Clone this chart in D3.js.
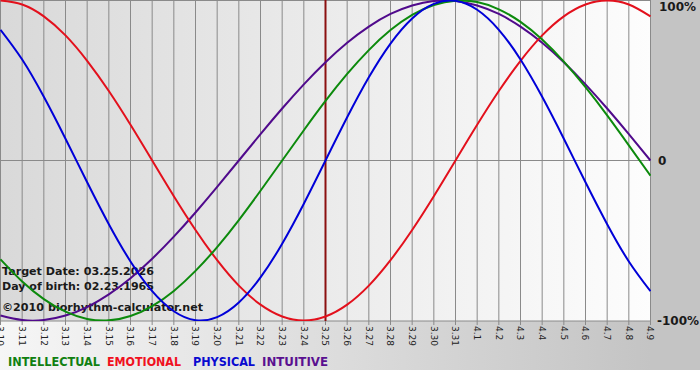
<!DOCTYPE html>
<html><head><meta charset="utf-8">
<script src="https://cdn.jsdelivr.net/npm/d3@7/dist/d3.min.js"></script>
<style>html,body{margin:0;padding:0;background:#fff;}svg{display:block;}</style>
</head><body>
<svg id="chart" width="700" height="380"></svg>
<script>
const dates = ["3.10","3.11","3.12","3.13","3.14","3.15","3.16","3.17","3.18","3.19","3.20","3.21","3.22","3.23","3.24","3.25","3.26","3.27","3.28","3.29","3.30","3.31","4.1","4.2","4.3","4.4","4.5","4.6","4.7","4.8","4.9"];
const targetDate = "3.25";
const intellectual = [-0.618,-0.756,-0.866,-0.945,-0.990,-0.999,-0.972,-0.910,-0.815,-0.690,-0.541,-0.372,-0.189,0,0.189,0.372,0.541,0.690,0.815,0.910,0.972,0.999,0.990,0.945,0.866,0.756,0.618,0.458,0.282,0.095,-0.095];
const emotional = [1,0.975,0.901,0.782,0.623,0.434,0.223,0,-0.223,-0.434,-0.623,-0.782,-0.901,-0.975,-1,-0.975,-0.901,-0.782,-0.623,-0.434,-0.223,0,0.223,0.434,0.623,0.782,0.901,0.975,1,0.975,0.901];
const physical = [0.817,0.631,0.398,0.136,-0.136,-0.398,-0.631,-0.817,-0.942,-0.998,-0.979,-0.888,-0.731,-0.520,-0.270,0,0.270,0.520,0.731,0.888,0.979,0.998,0.942,0.817,0.631,0.398,0.136,-0.136,-0.398,-0.631,-0.817];
const intuitive = [-0.969,-0.997,-0.997,-0.969,-0.916,-0.837,-0.736,-0.614,-0.476,-0.325,-0.165,0,0.165,0.325,0.476,0.614,0.736,0.837,0.916,0.969,0.997,0.997,0.969,0.916,0.837,0.736,0.614,0.476,0.325,0.165,0];
const yTicks = [1, 0, -1];
const yTickLabels = ["100%", "0", "-100%"];
const seriesNames = ["INTELLECTUAL","EMOTIONAL","PHYSICAL","INTUITIVE"];
const infoLines = ["Target Date: 03.25.2026","Day of birth: 02.23.1965","\u00A92010 biorhythm-calculator.net"];

const colors = {INTELLECTUAL:"#0c8a0c", EMOTIONAL:"#e3101c", PHYSICAL:"#0000d8", INTUITIVE:"#500a8c"};
const legendColors = {INTELLECTUAL:"#108010", EMOTIONAL:"#f01020", PHYSICAL:"#0a0ad0", INTUITIVE:"#5a1090"};
const seriesData = {INTELLECTUAL:intellectual, EMOTIONAL:emotional, PHYSICAL:physical, INTUITIVE:intuitive};

const svg = d3.select("#chart");
const W = 700, H = 380;
const plotL = 0, plotR = 651, plotT = 0, plotB = 321;

const x = d3.scalePoint().domain(dates).range([0.5, 650.5]);
const y = d3.scaleLinear().domain([-1, 1]).range([320.5, 0.5]);

const defs = svg.append("defs");
const g1 = defs.append("linearGradient").attr("id","plotGrad").attr("x1","0").attr("x2","1").attr("y1","0").attr("y2","0");
g1.append("stop").attr("offset","0").attr("stop-color","#d9d9d9");
g1.append("stop").attr("offset","1").attr("stop-color","#fdfdfd");
const g2 = defs.append("linearGradient").attr("id","bandGrad").attr("x1","0").attr("x2","1").attr("y1","0").attr("y2","0");
g2.append("stop").attr("offset","0").attr("stop-color","#f6f6f6");
g2.append("stop").attr("offset","0.93").attr("stop-color","#c4c4c4");
g2.append("stop").attr("offset","1").attr("stop-color","#c4c4c4");
defs.append("clipPath").attr("id","clip").append("rect").attr("x",plotL).attr("y",plotT).attr("width",plotR-plotL).attr("height",plotB-plotT);

svg.append("rect").attr("width",W).attr("height",H).attr("fill","#ffffff");
svg.append("rect").attr("x",0).attr("y",0).attr("width",W).attr("height",370).attr("fill","#c4c4c4");
svg.append("rect").attr("x",0).attr("y",plotB).attr("width",W).attr("height",370-plotB).attr("fill","url(#bandGrad)");
svg.append("rect").attr("x",plotL).attr("y",plotT).attr("width",plotR-plotL).attr("height",plotB-plotT).attr("fill","url(#plotGrad)");

// vertical grid + ticks
svg.append("g").selectAll("line").data(dates).join("line")
  .attr("x1", d => x(d)).attr("x2", d => x(d))
  .attr("y1", 0).attr("y2", plotB + 4)
  .attr("stroke", "#8a8a8a").attr("stroke-width", 1);

// horizontal lines
svg.append("line").attr("x1",0).attr("x2",plotR).attr("y1",y(0)).attr("y2",y(0)).attr("stroke","#8a8a8a");
svg.append("line").attr("x1",0).attr("x2",plotR).attr("y1",0.5).attr("y2",0.5).attr("stroke","#8a8a8a");
svg.append("line").attr("x1",0).attr("x2",plotR).attr("y1",plotB).attr("y2",plotB).attr("stroke","#8a8a8a");

// target line
svg.append("line").attr("x1",x(targetDate)).attr("x2",x(targetDate)).attr("y1",0).attr("y2",plotB)
  .attr("stroke","#8b1010").attr("stroke-width",2);

// info text (behind curves)
svg.append("g").selectAll("text").data(infoLines).join("text")
  .attr("x", 2).attr("y", (d,i) => [275, 290, 311][i])
  .attr("font-family","DejaVu Sans, Verdana, sans-serif").attr("font-weight","bold")
  .attr("font-size", 11).attr("fill","#1a1a1a")
  .attr("textLength", (d,i) => [152, 152, 201][i]).attr("lengthAdjust","spacingAndGlyphs")
  .text(d => d);

// curves
const line = d3.line().x((d,i) => x(dates[i])).y(d => y(d)).curve(d3.curveNatural);
const cg = svg.append("g").attr("clip-path","url(#clip)");
["INTUITIVE","EMOTIONAL","INTELLECTUAL","PHYSICAL"].forEach(name => {
  cg.append("path").datum(seriesData[name]).attr("d", line)
    .attr("fill","none").attr("stroke", colors[name]).attr("stroke-width", 2);
});

// x labels
svg.append("g").selectAll("text").data(dates).join("text")
  .attr("transform", d => `translate(${x(d)},${plotB + 5}) rotate(90)`)
  .attr("dy","0.35em")
  .attr("font-family","DejaVu Sans, Verdana, sans-serif").attr("font-size", 9).attr("fill","#222")
  .text(d => d);

// y labels
svg.append("g").selectAll("text").data(yTicks).join("text")
  .attr("x", (d,i) => [659, 658, 657][i])
  .attr("y", d => d === 1 ? 11 : y(d))
  .attr("dy", d => d === 1 ? "0" : "0.36em")
  .attr("font-family","DejaVu Sans, Verdana, sans-serif").attr("font-weight","bold")
  .attr("font-size", 12).attr("fill","#1a1a1a")
  .text((d,i) => yTickLabels[i]);

// legend
const legendX = [8, 107, 193, 262];
const legendW = [92, 74, 62, 66];
svg.append("g").selectAll("text").data(seriesNames).join("text")
  .attr("x", (d,i) => legendX[i]).attr("y", 366)
  .attr("font-family","DejaVu Sans, Verdana, sans-serif").attr("font-size", 12).attr("font-weight","bold")
  .attr("fill", d => legendColors[d])
  .attr("textLength", (d,i) => legendW[i]).attr("lengthAdjust","spacingAndGlyphs")
  .text(d => d);
</script>
</body></html>
